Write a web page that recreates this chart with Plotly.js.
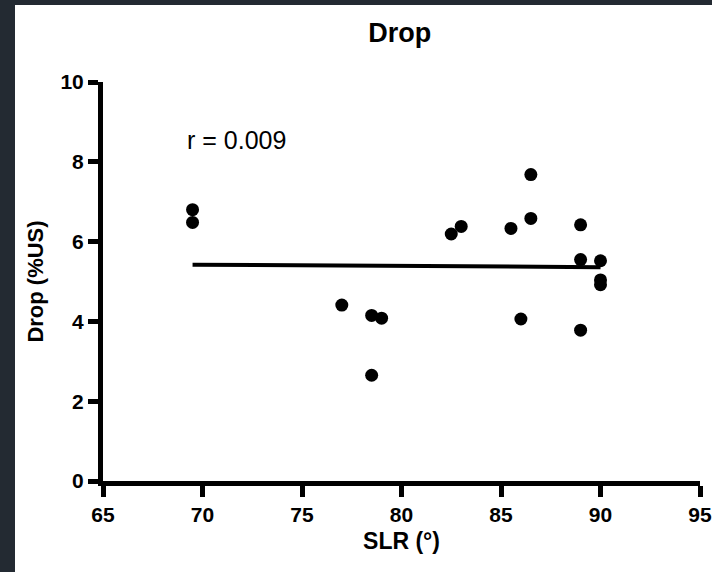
<!DOCTYPE html>
<html>
<head>
<meta charset="utf-8">
<script src="https://cdn.plot.ly/plotly-3.0.1.min.js"></script>
<style>
html,body{margin:0;padding:0;background:#232a32;width:712px;height:572px;overflow:hidden;}
#chart{position:absolute;left:15px;top:5px;width:697px;height:567px;background:#fff;}
</style>
</head>
<body>
<div id="chart"></div>
<script>
// SLR (degrees) and Drop (%US)
const slr  = [69.5, 69.5, 77.0, 78.5, 79.0, 78.5, 82.5, 83.0, 85.5, 86.5, 86.5, 86.0, 89.0, 89.0, 89.0, 90.0, 90.0, 90.0];
const drop = [6.80, 6.48, 4.41, 4.15, 4.08, 2.65, 6.19, 6.38, 6.33, 7.68, 6.58, 4.06, 6.42, 5.55, 3.78, 5.52, 5.04, 4.92];
// regression line end points
const fitX = [69.5, 90.0];
const fitY = [5.42, 5.36];
const xTicks = [65, 70, 75, 80, 85, 90, 95];
const yTicks = [0, 2, 4, 6, 8, 10];

const font = "Liberation Sans, Arial, sans-serif";

const traces = [
  {x: fitX, y: fitY, mode: 'lines', type: 'scatter',
   line: {color: '#000', width: 4}, hoverinfo: 'skip', showlegend: false},
  {x: slr, y: drop, mode: 'markers', type: 'scatter',
   marker: {color: '#000', size: 13}, showlegend: false, cliponaxis: false}
];

const layout = {
  width: 697, height: 567,
  margin: {l: 88, r: 12, t: 77, b: 91},
  paper_bgcolor: '#fff', plot_bgcolor: '#fff',
  showlegend: false,
  title: {text: '<b>Drop</b>', x: 0.552, xanchor: 'center', y: 0.952, yanchor: 'middle',
          font: {family: font, size: 27, color: '#000'}},
  xaxis: {
    range: [65, 95], tickvals: xTicks, ticktext: xTicks.map(v => '<b>' + v + '</b>'),
    ticklabeloverflow: 'allow',
    showgrid: false, zeroline: false, showline: true, linecolor: '#000', linewidth: 5,
    ticks: 'outside', ticklen: 11, tickwidth: 5, tickcolor: '#000',
    tickfont: {family: font, size: 21, color: '#000'},
    title: {text: '<b>SLR (°)</b>', standoff: 9, font: {family: font, size: 23, color: '#000'}}
  },
  yaxis: {
    range: [0, 10], tickvals: yTicks, ticktext: yTicks.map(v => '<b>' + v + '</b>'),
    showgrid: false, zeroline: false, showline: true, linecolor: '#000', linewidth: 5,
    ticks: 'outside', ticklen: 10, tickwidth: 5, tickcolor: '#000',
    tickfont: {family: font, size: 21, color: '#000'},
    title: {text: '<b>Drop (%US)</b>', standoff: 12, font: {family: font, size: 22, color: '#000'}}
  },
  annotations: [
    {x: 69.1, y: 8.55, xref: 'x', yref: 'y', text: 'r = 0.009', showarrow: false,
     xanchor: 'left', yanchor: 'middle', font: {family: font, size: 25, color: '#000'}}
  ]
};

Plotly.newPlot('chart', traces, layout, {displayModeBar: false, staticPlot: true});
</script>
</body>
</html>
